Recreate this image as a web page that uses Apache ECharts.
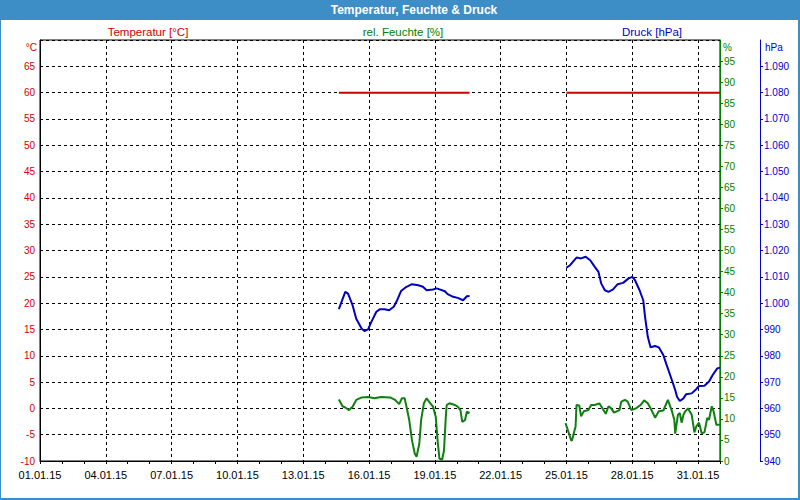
<!DOCTYPE html>
<html>
<head>
<meta charset="utf-8">
<script src="https://cdn.jsdelivr.net/npm/echarts@6/dist/echarts.min.js"></script>
<style>
html,body{margin:0;padding:0;background:#fff;}
#chart{width:800px;height:500px;}
</style>
</head>
<body>
<div id="chart"></div>
<script>
// ---- data ----
const chartTitle = "Temperatur, Feuchte & Druck";
const legendLabels = ["Temperatur [°C]", "rel. Feuchte [%]", "Druck [hPa]"];
const unitLabels = ["°C", "%", "hPa"];
const xStart = "2015-01-01 00:00";
const xEnd = "2015-02-01 00:00";

const tempTimesA = ["2015-01-14 15:00", "2015-01-20 14:00"];
const tempValuesA = [60, 60];
const tempTimesB = ["2015-01-25 00:00", "2015-02-01 00:00"];
const tempValuesB = [60, 60];

const humTimesA = ["2015-01-14 15:00","2015-01-14 19:00","2015-01-14 22:00","2015-01-15 02:00","2015-01-15 06:00","2015-01-15 10:00","2015-01-15 16:00","2015-01-15 23:00","2015-01-16 06:00","2015-01-16 13:00","2015-01-16 23:00","2015-01-17 04:00","2015-01-17 09:00","2015-01-17 12:00","2015-01-17 15:00","2015-01-17 17:00","2015-01-17 20:00","2015-01-17 23:00","2015-01-18 02:00","2015-01-18 04:00","2015-01-18 07:00","2015-01-18 09:00","2015-01-18 12:00","2015-01-18 15:00","2015-01-18 18:00","2015-01-18 22:00","2015-01-19 01:00","2015-01-19 03:00","2015-01-19 05:00","2015-01-19 08:00","2015-01-19 10:00","2015-01-19 12:00","2015-01-19 13:00","2015-01-19 16:00","2015-01-19 22:00","2015-01-20 01:00","2015-01-20 04:00","2015-01-20 06:00","2015-01-20 09:00","2015-01-20 11:00","2015-01-20 14:00"];
const humValuesA = [14.6,13.0,12.7,12.1,12.9,14.5,15.1,15.2,14.9,15.2,15.1,14.6,13.5,14.9,14.9,12.9,9.7,4.9,1.8,1.0,4.1,9.7,13.7,14.9,14.0,12.9,10.5,4.9,0.6,0.3,2.5,10.5,13.3,13.7,13.3,12.9,12.1,9.3,9.7,11.7,11.4];

const humTimesB = ["2015-01-24 23:00","2015-01-25 02:00","2015-01-25 05:00","2015-01-25 06:00","2015-01-25 08:00","2015-01-25 10:00","2015-01-25 11:00","2015-01-25 14:00","2015-01-25 16:00","2015-01-25 19:00","2015-01-26 00:00","2015-01-26 03:00","2015-01-26 07:00","2015-01-26 12:00","2015-01-26 14:00","2015-01-26 19:00","2015-01-26 22:00","2015-01-27 01:00","2015-01-27 04:00","2015-01-27 10:00","2015-01-27 12:00","2015-01-27 16:00","2015-01-27 19:00","2015-01-27 23:00","2015-01-28 04:00","2015-01-28 09:00","2015-01-28 13:00","2015-01-28 17:00","2015-01-28 21:00","2015-01-29 01:00","2015-01-29 05:00","2015-01-29 10:00","2015-01-29 15:00","2015-01-29 19:00","2015-01-29 22:00","2015-01-29 23:00","2015-01-30 02:00","2015-01-30 04:00","2015-01-30 06:00","2015-01-30 08:00","2015-01-30 10:00","2015-01-30 13:00","2015-01-30 17:00","2015-01-30 20:00","2015-01-30 22:00","2015-01-31 01:00","2015-01-31 04:00","2015-01-31 07:00","2015-01-31 10:00","2015-01-31 12:00","2015-01-31 15:00","2015-01-31 17:00","2015-01-31 20:00","2015-02-01 00:00"];
const humValuesB = [9.0,7.0,5.0,4.8,6.6,8.2,13.3,13.2,10.6,11.8,12.1,13.3,13.3,13.7,13.0,11.2,13.0,12.5,11.5,12.1,14.1,14.5,14.1,12.1,12.5,13.3,14.4,13.7,12.1,10.3,11.8,12.0,14.5,12.1,9.8,6.5,11.0,11.4,9.1,11.0,11.8,12.5,11.0,6.8,8.2,9.1,6.6,6.8,10.2,9.8,13.0,11.8,8.6,8.6];

const presTimesA = ["2015-01-14 15:00","2015-01-14 22:00","2015-01-15 01:00","2015-01-15 06:00","2015-01-15 10:00","2015-01-15 16:00","2015-01-15 19:00","2015-01-15 23:00","2015-01-16 02:00","2015-01-16 08:00","2015-01-16 12:00","2015-01-16 17:00","2015-01-16 22:00","2015-01-17 03:00","2015-01-17 06:00","2015-01-17 11:00","2015-01-17 17:00","2015-01-17 23:00","2015-01-18 06:00","2015-01-18 11:00","2015-01-18 15:00","2015-01-18 22:00","2015-01-19 02:00","2015-01-19 11:00","2015-01-19 14:00","2015-01-19 20:00","2015-01-20 01:00","2015-01-20 07:00","2015-01-20 11:00","2015-01-20 14:00"];
const presValuesA = [997.7,1004.3,1003.6,999.2,994.1,990.3,989.4,990.0,992.5,996.7,997.7,997.7,997.3,998.6,1000.5,1004.6,1006.2,1007.2,1006.8,1006.2,1004.9,1005.2,1005.6,1004.5,1003.4,1002.4,1002.0,1001.1,1002.6,1002.7];

const presTimesB = ["2015-01-25 00:00","2015-01-25 04:00","2015-01-25 07:00","2015-01-25 11:00","2015-01-25 16:00","2015-01-25 21:00","2015-01-26 02:00","2015-01-26 07:00","2015-01-26 11:00","2015-01-26 14:00","2015-01-26 18:00","2015-01-26 22:00","2015-01-27 03:00","2015-01-27 08:00","2015-01-27 14:00","2015-01-27 20:00","2015-01-28 00:00","2015-01-28 03:00","2015-01-28 08:00","2015-01-28 12:00","2015-01-28 14:00","2015-01-28 17:00","2015-01-28 20:00","2015-01-29 01:00","2015-01-29 05:00","2015-01-29 10:00","2015-01-29 13:00","2015-01-29 18:00","2015-01-29 23:00","2015-01-30 01:00","2015-01-30 04:00","2015-01-30 08:00","2015-01-30 11:00","2015-01-30 17:00","2015-01-30 22:00","2015-01-31 01:00","2015-01-31 07:00","2015-01-31 12:00","2015-01-31 16:00","2015-01-31 21:00","2015-02-01 00:00"];
const presValuesB = [1013.5,1014.4,1015.7,1017.3,1017.0,1017.6,1016.3,1013.8,1011.9,1007.5,1004.9,1004.3,1005.2,1007.2,1007.7,1009.4,1010.0,1008.7,1004.9,1001.1,994.8,987.2,983.2,983.7,983.2,980.3,977.1,972.1,967.0,964.4,962.8,963.8,965.4,965.7,967.3,968.5,968.6,970.2,972.7,975.2,975.5];

// ---- helpers ----
function toUTC(s){
  const [d,t] = s.split(" ");
  const [y,m,dd] = d.split("-").map(Number);
  const [h,mi] = t.split(":").map(Number);
  return Date.UTC(y,m-1,dd,h,mi);
}
const T0 = toUTC(xStart);
const DAY = 86400000;
function dayOf(s){ return (toUTC(s)-T0)/DAY; }
function pairs(times, vals){ return times.map((t,i)=>[dayOf(t), vals[i]]); }
function fmtDate(v){
  const dt = new Date(T0 + Math.round(v*DAY));
  const p = n => String(n).padStart(2,"0");
  return p(dt.getUTCDate())+"."+p(dt.getUTCMonth()+1)+"."+String(dt.getUTCFullYear()).slice(2);
}
const xMax = dayOf(xEnd);

const RED = "#d40000", RED_LINE = "#cc0000";
const GREEN = "#008000", GREEN_LINE = "#0f800f";
const BLUE = "#0000cc", BLUE_LINE = "#0000c0";
const FRAME = "#3d8ec6";
const FONT = "Liberation Sans";
const dashed = {show:true, lineStyle:{color:"#000", type:[3,3], width:1}};

function lineSeries(name, data, yIdx, color){
  return {name, type:"line", data, xAxisIndex:0, yAxisIndex:yIdx, symbol:"none",
    lineStyle:{color, width:2}, itemStyle:{color}, animation:false};
}

const chart = echarts.init(document.getElementById("chart"), null, {renderer:"svg"});
chart.setOption({
  animation:false,
  backgroundColor:"#fff",
  textStyle:{fontFamily:FONT},
  grid:{left:40, right:80, top:40, bottom:39, show:true, borderColor:"#000", borderWidth:1, backgroundColor:"#fff"},
  xAxis:[
    {type:"value", min:0, max:xMax, interval:3,
     axisLine:{onZero:false, lineStyle:{color:"#000", width:1}},
     axisTick:{show:false},
     axisLabel:{color:"#000", fontSize:11, fontFamily:FONT, margin:8, formatter:fmtDate, showMaxLabel:false},
     splitLine:dashed},
    {type:"value", min:0, max:xMax, interval:1, position:"bottom",
     axisLine:{show:false, onZero:false},
     axisTick:{show:true, length:3, lineStyle:{color:"#000"}},
     axisLabel:{show:false}, splitLine:{show:false}}
  ],
  yAxis:[
    {type:"value", position:"left", min:-10, max:70, interval:5,
     axisLine:{show:true, onZero:false, lineStyle:{color:"#000"}},
     axisTick:{show:false},
     axisLabel:{color:RED, fontSize:10, fontFamily:FONT, margin:5, showMaxLabel:false},
     splitLine:dashed},
    {type:"value", position:"right", min:0, max:100, interval:5,
     axisLine:{show:true, onZero:false, lineStyle:{color:GREEN}},
     axisTick:{show:true, length:3, lineStyle:{color:GREEN}},
     axisLabel:{color:GREEN, fontSize:10, fontFamily:FONT, margin:4, showMaxLabel:false},
     splitLine:{show:false}},
    {type:"value", position:"right", offset:40, min:940, max:1100, interval:10,
     axisLine:{show:true, onZero:false, lineStyle:{color:BLUE}},
     axisTick:{show:true, length:3, lineStyle:{color:BLUE}},
     axisLabel:{color:BLUE, fontSize:10, fontFamily:FONT, margin:4, showMaxLabel:false,
       formatter: v => v >= 1000 ? Math.floor(v/1000)+"."+String(v%1000).padStart(3,"0") : String(v)},
     splitLine:{show:false}}
  ],
  series:[
    lineSeries("Temperatur", pairs(tempTimesA, tempValuesA), 0, RED_LINE),
    lineSeries("Temperatur", pairs(tempTimesB, tempValuesB), 0, RED_LINE),
    lineSeries("Druck", pairs(presTimesA, presValuesA), 2, BLUE_LINE),
    lineSeries("Druck", pairs(presTimesB, presValuesB), 2, BLUE_LINE),
    lineSeries("Feuchte", pairs(humTimesA, humValuesA), 1, GREEN_LINE),
    lineSeries("Feuchte", pairs(humTimesB, humValuesB), 1, GREEN_LINE)
  ],
  graphic:[
    {type:"rect", z:100, shape:{x:0, y:0, width:800, height:20}, style:{fill:FRAME}},
    {type:"rect", z:100, shape:{x:0, y:0, width:799, height:499}, style:{fill:null, stroke:FRAME, lineWidth:2}},
    {type:"text", z:101, x:414, y:10, style:{text:chartTitle, fill:"#fff", font:"bold 12px '"+FONT+"'", textAlign:"center", textVerticalAlign:"middle"}},
    {type:"text", z:101, x:148, y:32, style:{text:legendLabels[0], fill:RED, font:"11.5px '"+FONT+"'", textAlign:"center", textVerticalAlign:"middle"}},
    {type:"text", z:101, x:403, y:32, style:{text:legendLabels[1], fill:GREEN, font:"11.5px '"+FONT+"'", textAlign:"center", textVerticalAlign:"middle"}},
    {type:"text", z:101, x:652, y:32, style:{text:legendLabels[2], fill:BLUE, font:"11.5px '"+FONT+"'", textAlign:"center", textVerticalAlign:"middle"}},
    {type:"text", z:101, x:37, y:47, style:{text:unitLabels[0], fill:RED, font:"10px '"+FONT+"'", textAlign:"right", textVerticalAlign:"middle"}},
    {type:"text", z:101, x:723, y:47, style:{text:unitLabels[1], fill:GREEN, font:"10px '"+FONT+"'", textAlign:"left", textVerticalAlign:"middle"}},
    {type:"text", z:101, x:765, y:47, style:{text:unitLabels[2], fill:BLUE, font:"10px '"+FONT+"'", textAlign:"left", textVerticalAlign:"middle"}}
  ]
});
</script>
</body>
</html>
